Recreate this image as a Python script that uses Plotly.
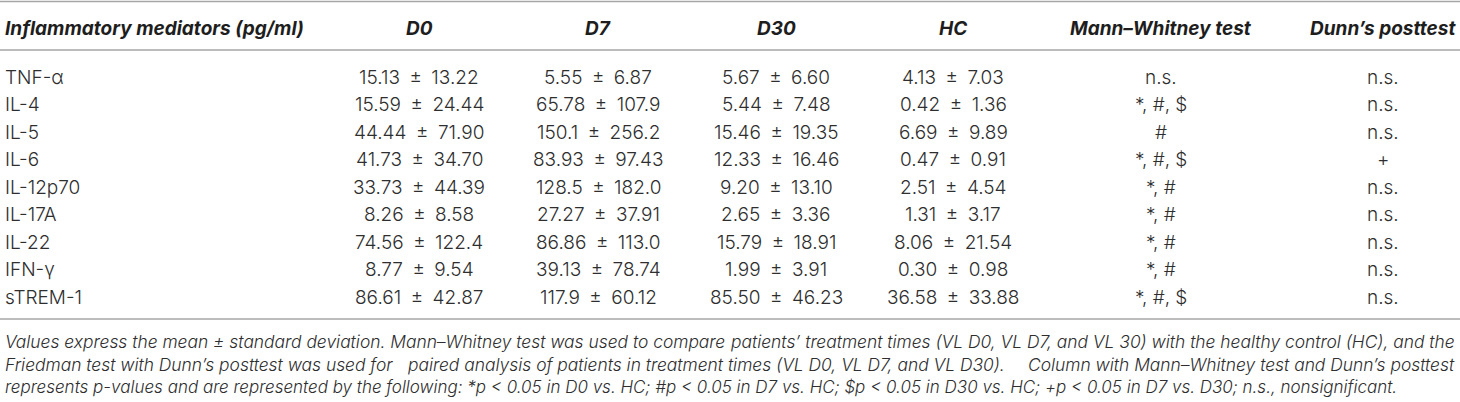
import plotly.graph_objects as go

# table content
columns = ["Inflammatory mediators (pg/ml)", "D0", "D7", "D30", "HC",
           "Mann\u2013Whitney test", "Dunn\u2019s posttest"]
mediators = ["TNF-\u03b1", "IL-4", "IL-5", "IL-6", "IL-12p70", "IL-17A",
             "IL-22", "IFN-\u03b3", "sTREM-1"]
d0 = ["15.13 \u00b1 13.22", "15.59 \u00b1 24.44", "44.44 \u00b1 71.90",
      "41.73 \u00b1 34.70", "33.73 \u00b1 44.39", "8.26 \u00b1 8.58",
      "74.56 \u00b1 122.4", "8.77 \u00b1 9.54", "86.61 \u00b1 42.87"]
d7 = ["5.55 \u00b1 6.87", "65.78 \u00b1 107.9", "150.1 \u00b1 256.2",
      "83.93 \u00b1 97.43", "128.5 \u00b1 182.0", "27.27 \u00b1 37.91",
      "86.86 \u00b1 113.0", "39.13 \u00b1 78.74", "117.9 \u00b1 60.12"]
d30 = ["5.67 \u00b1 6.60", "5.44 \u00b1 7.48", "15.46 \u00b1 19.35",
       "12.33 \u00b1 16.46", "9.20 \u00b1 13.10", "2.65 \u00b1 3.36",
       "15.79 \u00b1 18.91", "1.99 \u00b1 3.91", "85.50 \u00b1 46.23"]
hc = ["4.13 \u00b1 7.03", "0.42 \u00b1 1.36", "6.69 \u00b1 9.89",
      "0.47 \u00b1 0.91", "2.51 \u00b1 4.54", "1.31 \u00b1 3.17",
      "8.06 \u00b1 21.54", "0.30 \u00b1 0.98", "36.58 \u00b1 33.88"]
mann_whitney = ["n.s.", "*, #, $", "#", "*, #, $", "*, #", "*, #", "*, #",
                "*, #", "*, #, $"]
dunn = ["n.s.", "n.s.", "n.s.", "+", "n.s.", "n.s.", "n.s.", "n.s.", "n.s."]

# footnote; justified lines are cut in pieces (left / middle / right)
footnote = [
    ["Values express the mean \u00b1 standard deviation. Mann\u2013Whitney test was used to compare",
     "patients\u2019 treatment times (VL D0, VL D7, and VL 30) with the healthy control (HC), and the"],
    ["Friedman test with Dunn\u2019s posttest was used for",
     "paired analysis of patients in treatment times (VL D0, VL D7, and VL D30).",
     "Column with Mann\u2013Whitney test and Dunn\u2019s posttest"],
    ["represents p-values and are represented by the following: *p &lt; 0.05 in D0 vs. HC; #p &lt; 0.05 in D7 vs. HC; $p &lt; 0.05 in D30 vs. HC; +p &lt; 0.05 in D7 vs. D30; n.s., nonsignificant."],
]

W, H = 1460, 402
FONT = "Inter, Liberation Sans, Arial, sans-serif"
TEXT = "#2e2e2e"
RULE = "#a6a6a6"

col_x = [3, 419, 598, 776, 953, 1161, 1383]
header_y = 28
row_y0, row_dy = 77, 27.5
rule_y = [1.5, 50, 319]
foot_y0, foot_dy = 341, 23
foot_size = [17.4, 17.4, 17.0]
mid_x = 706  # centre of the middle piece of line 2

fig = go.Figure()

ann = []
for j, name in enumerate(columns):
    ann.append(dict(x=col_x[j], y=header_y, text="<b><i>%s</i></b>" % name,
                    xanchor="left" if j == 0 else "center", yanchor="middle",
                    showarrow=False,
                    font=dict(family=FONT, size=19, color="#1e1e1e")))

table_cols = [mediators, d0, d7, d30, hc, mann_whitney, dunn]
for j, col in enumerate(table_cols):
    for i, txt in enumerate(col):
        # a bit more room around the plus-minus sign, as in the print
        txt = txt.replace(" \u00b1 ", "\u2002\u00b1\u2002")
        ann.append(dict(x=col_x[j], y=row_y0 + i * row_dy, text=txt,
                        xanchor="left" if j == 0 else "center", yanchor="middle",
                        showarrow=False,
                        font=dict(family=FONT, size=19, color=TEXT, weight=300)))

for k, parts in enumerate(footnote):
    y = foot_y0 + k * foot_dy
    f = dict(family=FONT, size=foot_size[k], color=TEXT, weight=300)
    ann.append(dict(x=3, y=y, text="<i>%s</i>" % parts[0], xanchor="left",
                    yanchor="middle", showarrow=False, font=f))
    if len(parts) == 3:
        ann.append(dict(x=mid_x, y=y, text="<i>%s</i>" % parts[1], xanchor="center",
                        yanchor="middle", showarrow=False, font=f))
    if len(parts) > 1:
        ann.append(dict(x=1457, y=y, text="<i>%s</i>" % parts[-1], xanchor="right",
                        yanchor="middle", showarrow=False, font=f))

shapes = [dict(type="line", x0=0, x1=W, y0=y, y1=y,
               line=dict(color=RULE, width=1.6)) for y in rule_y]

fig.update_layout(
    width=W, height=H,
    margin=dict(l=0, r=0, t=0, b=0),
    paper_bgcolor="white", plot_bgcolor="white",
    xaxis=dict(range=[0, W], visible=False, fixedrange=True),
    yaxis=dict(range=[H, 0], visible=False, fixedrange=True),
    annotations=ann, shapes=shapes,
    showlegend=False,
)

fig.write_html("out.html", config={"displayModeBar": False},
               post_script="document.body.style.margin='0';")
